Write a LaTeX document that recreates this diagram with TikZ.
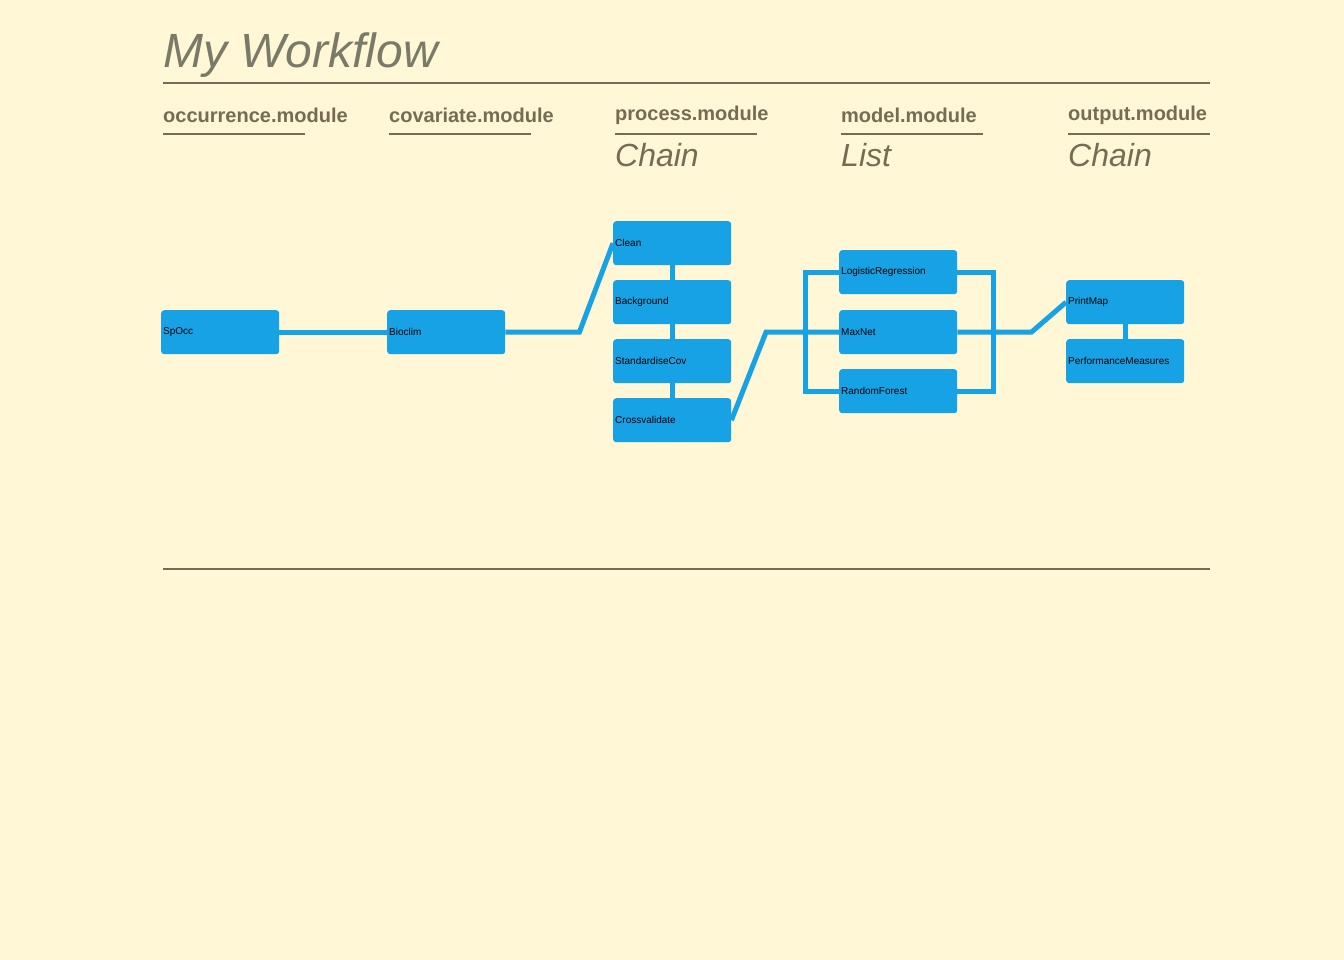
\documentclass[tikz,border=0pt]{standalone}
\usepackage{fontspec}
\setmainfont{Liberation Sans}
\definecolor{paper}{HTML}{FFF7D6}
\definecolor{ink}{HTML}{776B53}
\definecolor{titleink}{HTML}{7A7A68}
\definecolor{modblue}{HTML}{17A2E6}
\begin{document}
\begin{tikzpicture}[x=1pt, y=-1pt,
		modbox/.style={anchor=north west, fill=modblue, rounded corners=3pt, minimum width=118pt, minimum height=44pt, text width=114pt, inner xsep=2pt, align=left, font=\fontsize{10}{12}\selectfont, text=black},
		pipe/.style={draw=modblue, line width=5pt},
		header/.style={anchor=base west, inner sep=0pt, text=ink, font=\fontsize{20}{24}\selectfont\bfseries},
		kind/.style={anchor=base west, inner sep=0pt, text=ink, font=\fontsize{32}{38}\selectfont\itshape},
		rule/.style={draw=ink, line width=2pt}]
		\fill[paper] (0,0) rectangle (1344,960);
		\useasboundingbox (0,0) rectangle (1344,960);
		
		\node[anchor=base west, inner sep=0pt, text=titleink, font=\fontsize{48}{56}\selectfont\itshape] (title) at (163,68) {My Workflow};
		\draw[rule] (163,83) -- (1210,83);
		\draw[rule] (163,569) -- (1210,569);
		
		\foreach \x/\y/\name in {163/123/occurrence, 389/123/covariate, 615/121/process, 841/123/model, 1068/121/output}
		{
			\node[header] (h\name) at (\x,\y) {\name.module};
			\draw[rule] (\x,134) -- (142+\x,134);
		}
		\node[kind] (kprocess) at (615,167) {Chain};
		\node[kind] (kmodel) at (841,167) {List};
		\node[kind] (koutput) at (1068,167) {Chain};
		
		\node[modbox] (spocc) at (161,310) {SpOcc};
		\node[modbox] (bioclim) at (387,310) {Bioclim};
		\foreach \y/\name/\lab in {221/clean/Clean, 280/background/Background, 339/standardise/StandardiseCov, 398/crossval/Crossvalidate}
			\node[modbox] (\name) at (613,\y) {\lab};
		\foreach \y/\name/\lab in {250/logreg/LogisticRegression, 310/maxnet/MaxNet, 369/ranfor/RandomForest}
			\node[modbox] (\name) at (839,\y) {\lab};
		\node[modbox] (printmap) at (1066,280) {PrintMap};
		\node[modbox] (perf) at (1066,339) {PerformanceMeasures};
		
		\draw[pipe] (spocc.east) -- (bioclim.west);
		\draw[pipe] (bioclim.east) -- ++(74,0) coordinate (bend1) -- (clean.west);
		\draw[pipe] (clean.south) -- (background.north);
		\draw[pipe] (background.south) -- (standardise.north);
		\draw[pipe] (standardise.south) -- (crossval.north);
		\draw[pipe] (crossval.east) -- ([xshift=-73pt]maxnet.west) coordinate (bend2) -- (maxnet.west);
		\draw[pipe] (logreg.west) -- ++(-34,0) |- (ranfor.west);
		\draw[pipe] (logreg.east) -- ++(36,0) |- (ranfor.east);
		\draw[pipe] (maxnet.east) -- ++(74,0) coordinate (bend3) -- (printmap.west);
		\draw[pipe] (printmap.south) -- (perf.north);
	\end{tikzpicture}
\end{document}
